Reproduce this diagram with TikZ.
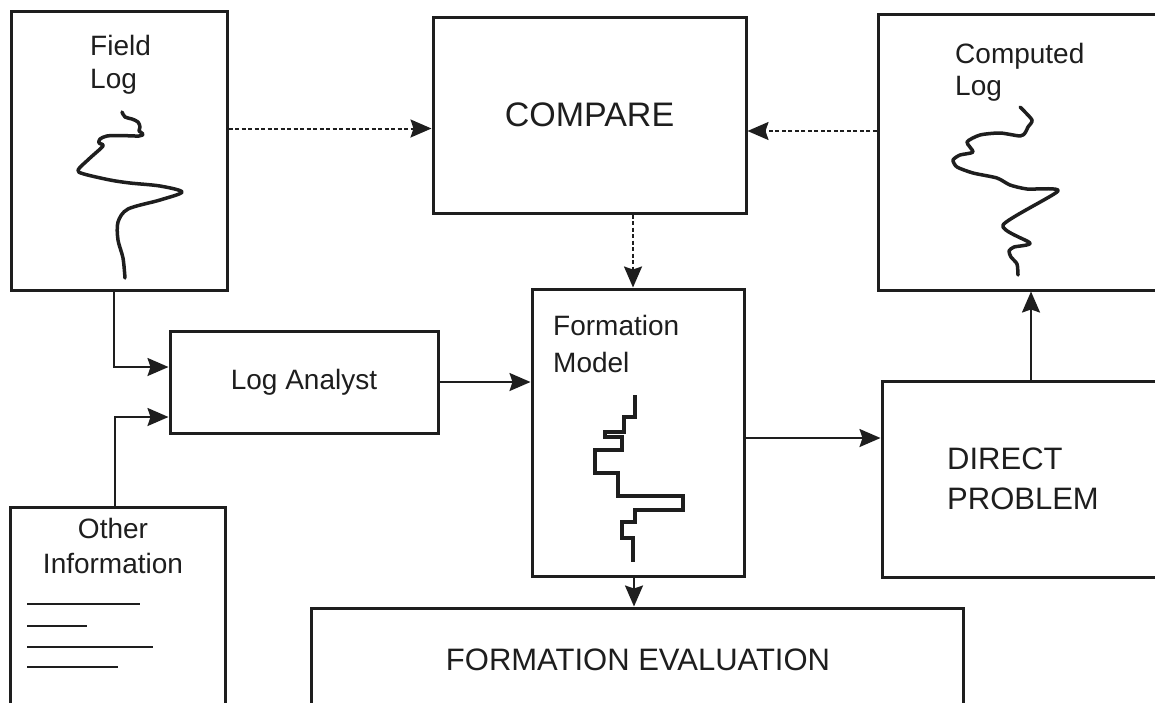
\documentclass[tikz,border=0pt]{standalone}
\usepackage{fontspec}
\setmainfont{Liberation Sans}
\usetikzlibrary{arrows.meta,calc}
\definecolor{ink}{RGB}{30,30,30}
\tikzset{
  box/.style={draw=ink, line width=3pt, inner sep=0pt, fill=white},
  lbl/.style={inner sep=0pt, text=ink, font=\fontsize{28}{33}\selectfont, align=left},
  conn/.style={draw=ink, line width=2pt, -{Stealth[length=21pt,width=18pt,inset=3pt]}},
  dotconn/.style={conn, dash pattern=on 4pt off 2.5pt},
  logcurve/.style={draw=ink, line width=3.5pt, line cap=round, line join=round}
}
\begin{document}
\begin{tikzpicture}[x=1pt,y=-1pt]
\useasboundingbox (0,0) rectangle (1155,702);
\clip (0,0) rectangle (1155,702);
% boxes
\node[box, minimum width=216pt, minimum height=279pt] (fieldlog) at (119,150.5) {};
\node[box, minimum width=313pt, minimum height=196pt, font=\fontsize{34}{40}\selectfont, text=ink] (compare) at (589.5,115) {COMPARE};
\node[box, minimum width=302pt, minimum height=276pt] (computed) at (1029,152) {};
\node[box, minimum width=268pt, minimum height=102pt, font=\fontsize{28}{33}\selectfont, text=ink] (loganalyst) at (304,382) {Log Analyst};
\node[box, minimum width=212pt, minimum height=287pt] (formation) at (638,432.5) {};
\node[box, minimum width=298pt, minimum height=196pt] (direct) at (1031,479) {};
\node[box, minimum width=215pt, minimum height=213pt] (other) at (117.5,613.5) {};
\node[box, minimum width=652pt, minimum height=112pt] (formeval) at (637,664) {};
% labels
\node[lbl, anchor=north west] (fieldtxt) at (90,34.6) {Field\\Log};
\node[lbl, anchor=north west, font=\fontsize{28}{32}\selectfont] (comptxt) at (955,42.6) {Computed\\Log};
\node[lbl, anchor=north west, font=\fontsize{28}{37}\selectfont] (formtxt) at (553,314.6) {Formation\\Model};
\node[lbl, anchor=north, align=center, font=\fontsize{28}{35}\selectfont] (othertxt) at (113,517.5) {Other\\Information};
\node[lbl, anchor=north west, font=\fontsize{31}{40}\selectfont] (directtxt) at (947,447.8) {DIRECT\\PROBLEM};
\node[lbl, anchor=base, font=\fontsize{31}{37}\selectfont] (evaltxt) at (638,670) {FORMATION EVALUATION};
% curves
\draw[logcurve] plot[smooth, tension=0.5] coordinates {(122,112) (125,117) (132,119) (138,122) (140,127) (139,131) (143,134) (139,136) (120,135.5) (107,136) (100,139) (99,143) (103,146) (90,158) (78,170) (84,174) (110,180) (130,183) (160,186) (182,192) (160,200) (128,209) (118,222) (118,240) (123,258) (125,278)};
\draw[logcurve] plot[smooth, tension=0.4] coordinates {(1020,107) (1032,120) (1028,127) (1025,133) (1020,136) (1000,133) (980,135) (967,142) (973,152) (960,155) (953,160) (957,167) (973,173) (997,178) (1010,185) (1027,189) (1058,191) (1003,225) (1030,243) (1014,247) (1009,251) (1011,257) (1017,264) (1018,275)};
\draw[logcurve, line width=4pt, line cap=butt, line join=miter] (635,395) -- (635,417) -- (624,417) -- (624,432) -- (605,432) -- (605,437) -- (622,437) -- (622,450) -- (595,450) -- (595,473) -- (618,473) -- (618,496) -- (683,496) -- (683,510) -- (635,510) -- (635,522) -- (622,522) -- (622,538) -- (633,538) -- (633,562);
% other information lines
\foreach \y/\x in {604/140, 626/87, 647/153, 667/118}
  \draw[draw=ink, line width=2pt] (27,\y) -- (\x,\y);
% connectors
\draw[conn] ([xshift=-5pt]fieldlog.south) |- ([yshift=15pt]loganalyst.west);
\draw[conn] ([xshift=-3pt]other.north) |- ([yshift=-35pt]loganalyst.west);
\draw[conn] (loganalyst.east) -- (loganalyst.east -| formation.west);
\draw[dotconn] ([yshift=22pt]fieldlog.east) -- ([yshift=22pt]fieldlog.east -| compare.west);
\draw[dotconn] ([yshift=21pt]computed.west) -- ([yshift=21pt]computed.west -| compare.east);
\draw[dotconn] ([xshift=-5pt]formation.north |- compare.south) -- ([xshift=-5pt]formation.north);
\draw[conn] ([xshift=-4pt]formation.south) -- ([xshift=-4pt]formation.south |- formeval.north);
\draw[conn] ([yshift=-5.5pt]formation.east) -- ([yshift=-5.5pt]formation.east -| direct.west);
\draw[conn] (direct.north) -- (direct.north |- computed.south);
\end{tikzpicture}
\end{document}
